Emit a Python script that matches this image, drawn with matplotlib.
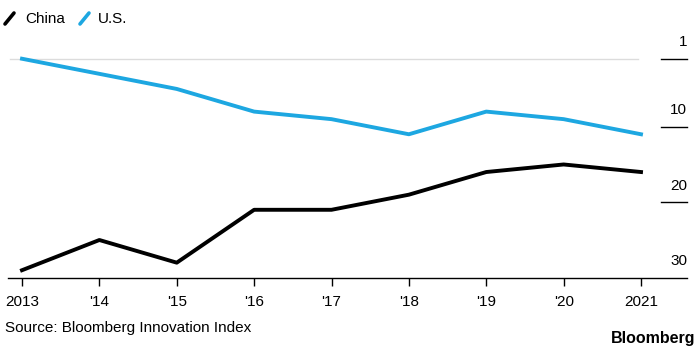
import numpy as np
import matplotlib.pyplot as plt
from matplotlib.lines import Line2D
import matplotlib.transforms as mtransforms

plt.rcParams['font.family'] = ['Liberation Sans', 'DejaVu Sans']

years = [2013, 2014, 2015, 2016, 2017, 2018, 2019, 2020, 2021]
year_labels = ['2013', "'14", "'15", "'16", "'17", "'18", "'19", "'20", '2021']
china_rank = [29, 25, 28, 21, 21, 19, 16, 15, 16]
us_rank = [1, 3, 5, 8, 9, 11, 8, 9, 11]
rank_ticks = [1, 10, 20, 30]

black = '#000000'
blue = '#1da7e1'

fig = plt.figure(figsize=(7, 3.5), dpi=100)
# axes spans x 8..687 px, y 40..278 px (from top)
ax = fig.add_axes([8/700, 72/350, 679/700, 238/350])

ax.axhline(1, xmin=0.003, xmax=0.928, color='#dcdcdc', lw=1, zorder=1)
ax.plot(years, us_rank, color=blue, lw=2.8, solid_joinstyle='round', zorder=3)
ax.plot(years, china_rank, color=black, lw=2.8, solid_joinstyle='round', zorder=3)

ax.set_xlim(2013 - 14/77.4, 2021 + 46/77.4)
ax.set_ylim(30.03, -1.48)

for s in ['top', 'left', 'right']:
    ax.spines[s].set_visible(False)
ax.spines['bottom'].set_linewidth(1)

ax.set_xticks(years)
ax.set_xticklabels(year_labels, fontsize=11)
ax.tick_params(axis='x', length=6, width=1, pad=6, colors='black')

# right-hand rank scale: short tick lines with labels sitting above them
ax.set_yticks([])
trans = mtransforms.blended_transform_factory(ax.transAxes, ax.transData)
for r in rank_ticks:
    if r != 30:
        ax.plot([0.961, 1.0], [r, r], color='black', lw=1, transform=trans, clip_on=False)
    ax.text(1.0, r, str(r), transform=trans + mtransforms.ScaledTranslation(0, 7/72, fig.dpi_scale_trans),
            ha='right', va='bottom', fontsize=11)

# legend
fig.add_artist(Line2D([5/700, 14/700], [1 - 24/350, 1 - 13/350], color=black, lw=2.6,
                      solid_capstyle='round'))
fig.text(25/700, 1 - 19/350, 'China', fontsize=11, va='center', ha='left')
fig.add_artist(Line2D([80/700, 89/700], [1 - 24/350, 1 - 13/350], color=blue, lw=2.6,
                      solid_capstyle='round'))
fig.text(98/700, 1 - 19/350, 'U.S.', fontsize=11, va='center', ha='left')

fig.text(5/700, 1 - 328/350, 'Source: Bloomberg Innovation Index', fontsize=11, va='center', ha='left')
fig.text(695/700, 1 - 338/350, 'Bloomberg', fontsize=11.5, fontweight='heavy', va='center', ha='right')

fig.savefig('out.png', dpi=100)
